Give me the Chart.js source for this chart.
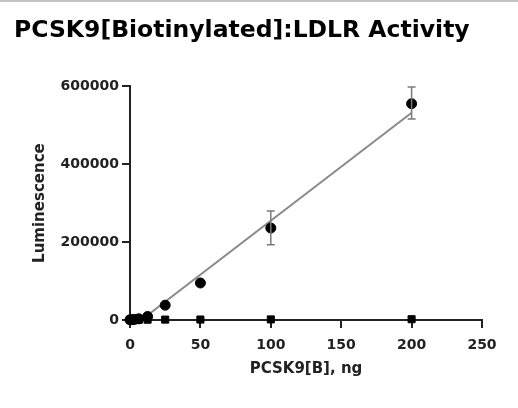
<!DOCTYPE html>
<html>
<head>
<meta charset="utf-8">
<script src="https://cdn.jsdelivr.net/npm/chart.js@4.4.1/dist/chart.umd.min.js"></script>
<style>
  body { margin: 0; background: #fff; }
  #wrap { position: relative; width: 518px; height: 408px; }
  #topbar { position: absolute; left: 0; top: 0; width: 518px; height: 2px; background: #c4c4c4; }
  canvas { display: block; }
</style>
</head>
<body>
<div id="wrap">
  <canvas id="chart" width="518" height="408"></canvas>
  <div id="topbar"></div>
</div>
<script>
// Datos
const dosis = [0, 1.5625, 3.125, 6.25, 12.5, 25, 50, 100, 200];
const lumConLDLR = [500, 800, 1500, 3000, 9000, 38000, 95000, 236000, 555000];
const errBajo = [300, 600, 1200, 2500, 7000, 34000, 90000, 193000, 516000];
const errAlto = [700, 1000, 1800, 3500, 11000, 42000, 100000, 280000, 598000];
const lumSinLDLR = [500, 500, 500, 600, 800, 1000, 1200, 1500, 2000];
const ajusteX = [8, 200];
const ajusteY = [0, 532000];
const ticksX = [0, 50, 100, 150, 200, 250];
const ticksY = [0, 200000, 400000, 600000];

const fuenteEje = "'DejaVu Sans', sans-serif";

// Barras de error (dibujadas con las escalas del gráfico)
const barrasError = {
  id: "barrasError",
  afterDatasetsDraw(chart) {
    const { ctx, scales } = chart;
    ctx.save();
    ctx.strokeStyle = "#7a7a7a";
    ctx.lineWidth = 1.5;
    dosis.forEach((d, i) => {
      const x = scales.x.getPixelForValue(d);
      const y1 = scales.y.getPixelForValue(errBajo[i]);
      const y2 = scales.y.getPixelForValue(errAlto[i]);
      if (Math.abs(y1 - y2) < 12) return;
      ctx.beginPath();
      ctx.moveTo(x, y1); ctx.lineTo(x, y2);
      ctx.moveTo(x - 4, y1); ctx.lineTo(x + 4, y1);
      ctx.moveTo(x - 4, y2); ctx.lineTo(x + 4, y2);
      ctx.stroke();
    });
    ctx.restore();
  },
};

const ctx = document.getElementById("chart");
new Chart(ctx, {
  type: "scatter",
  data: {
    datasets: [
      {
        type: "line",
        data: ajusteX.map((x, i) => ({ x, y: ajusteY[i] })),
        borderColor: "#8a8a8a",
        borderWidth: 2,
        pointRadius: 0,
        fill: false,
        order: 3,
      },
      {
        data: dosis.map((x, i) => ({ x, y: lumSinLDLR[i] })),
        pointStyle: "rect",
        pointRadius: 5,
        backgroundColor: "#000",
        borderColor: "#000",
        clip: false,
        order: 2,
      },
      {
        data: dosis.map((x, i) => ({ x, y: lumConLDLR[i] })),
        pointStyle: "circle",
        pointRadius: 5,
        backgroundColor: "#000",
        borderColor: "#000",
        clip: false,
        order: 1,
      },
    ],
  },
  options: {
    responsive: false,
    animation: false,
    layout: { padding: { left: 14, right: 36, top: 0, bottom: 26 } },
    plugins: {
      legend: { display: false },
      tooltip: { enabled: false },
      title: {
        display: true,
        text: "PCSK9[Biotinylated]:LDLR Activity",
        align: "start",
        color: "#000",
        font: { family: "'DejaVu Sans', sans-serif", size: 23.5, weight: "bold" },
        padding: { top: 17, bottom: 41 },
      },
    },
    scales: {
      x: {
        type: "linear",
        min: 0,
        max: 250,
        afterBuildTicks: (s) => { s.ticks = ticksX.map((v) => ({ value: v })); },
        afterFit: (s) => { s.height = 62; },
        border: { color: "#222", width: 2 },
        grid: { drawOnChartArea: false, color: "#222", lineWidth: 2, tickLength: 8 },
        ticks: { color: "#222", padding: 9, font: { family: fuenteEje, size: 14, weight: "bold" } },
        title: {
          display: true,
          text: "PCSK9[B], ng",
          color: "#222",
          font: { family: fuenteEje, size: 15, weight: "bold" },
          padding: { top: 4, bottom: 4 },
        },
      },
      y: {
        min: 0,
        max: 600000,
        afterBuildTicks: (s) => { s.ticks = ticksY.map((v) => ({ value: v })); },
        afterFit: (s) => { s.width = 116; },
        border: { color: "#222", width: 2 },
        grid: { drawOnChartArea: false, color: "#222", lineWidth: 2, tickLength: 8 },
        ticks: {
          color: "#222",
          padding: 3,
          font: { family: fuenteEje, size: 14, weight: "bold" },
          callback: (v) => String(v),
        },
        title: {
          display: true,
          text: "Luminescence",
          color: "#222",
          font: { family: fuenteEje, size: 15, weight: "bold" },
          padding: { top: 17, bottom: 4 },
        },
      },
    },
  },
  plugins: [barrasError],
});
</script>
</body>
</html>
